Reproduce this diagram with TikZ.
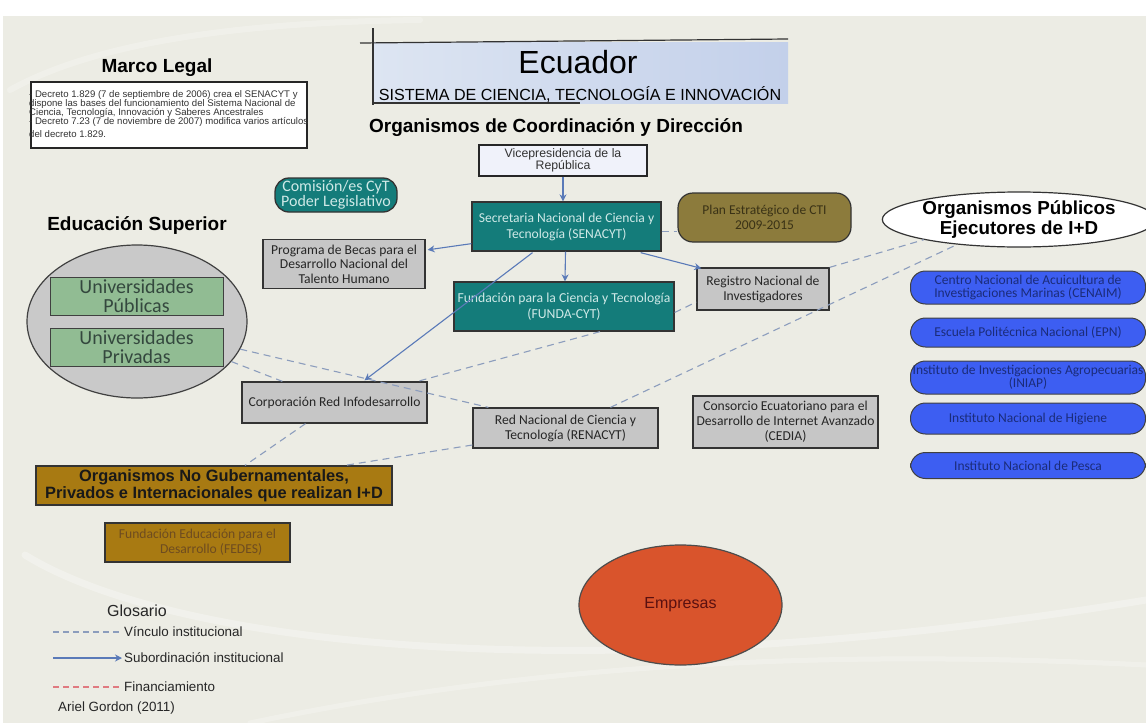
\documentclass[tikz,border=0pt]{standalone}
\usepackage{fontspec}
\setmainfont{Liberation Sans}
\newfontfamily\carl{Carlito}
\usetikzlibrary{arrows.meta,shapes.geometric,calc}
\definecolor{bgcol}{HTML}{ECECE4}
\definecolor{titleL}{HTML}{DDE5F2}
\definecolor{titleR}{HTML}{C3D0EA}
\definecolor{boxgray}{HTML}{C6C6C6}
\definecolor{tealfill}{HTML}{147C7A}
\definecolor{tealtext}{HTML}{CFE9E7}
\definecolor{olivefill}{HTML}{8C7B3C}
\definecolor{olivetext}{HTML}{3A3216}
\definecolor{greenfill}{HTML}{91BC93}
\definecolor{greentext}{HTML}{34483E}
\definecolor{ellgray}{HTML}{C9C9C9}
\definecolor{bluefill}{HTML}{3D5EF2}
\definecolor{bluetext}{HTML}{1B2C7A}
\definecolor{brownfill}{HTML}{A87A12}
\definecolor{fedestext}{HTML}{6E4C20}
\definecolor{empfill}{HTML}{D9542C}
\definecolor{emptext}{HTML}{5A1010}
\definecolor{dashcol}{HTML}{8C9DBD}
\definecolor{arrowcol}{HTML}{5A7AB8}
\definecolor{redcol}{HTML}{E07A80}
\definecolor{vicefill}{HTML}{F0F2FA}
\begin{document}
\begin{tikzpicture}[x=1pt,y=-1pt,
  gbox/.style={draw=black!80, line width=1.3pt, fill=boxgray, align=center, inner sep=1pt,
    font=\carl\fontsize{13.6}{15}\selectfont, text=black!85},
  tbox/.style={draw=black!80, line width=1.3pt, fill=tealfill, align=center, inner sep=1pt,
    font=\carl\fontsize{13.6}{16}\selectfont, text=tealtext},
  ubox/.style={draw=black!75, line width=1pt, fill=greenfill, align=center, inner sep=1pt,
    font=\carl\fontsize{20}{19}\selectfont, text=greentext, minimum width=173, minimum height=38},
  bluebox/.style={draw=black!75, line width=1pt, fill=bluefill, rounded corners=15pt, align=center,
    inner sep=0pt, font=\carl\fontsize{13.5}{13}\selectfont, text=bluetext, minimum width=235},
  vinc/.style={draw=dashcol, line width=1.1pt, dash pattern=on 7pt off 5pt},
  sub/.style={draw=arrowcol, line width=1.1pt, -{Stealth[length=7pt,width=7pt]}},
  lbl/.style={inner sep=0, anchor=base},
  swoosh/.style={draw=white, line cap=round}
]
\useasboundingbox (0,0) rectangle (1146,723);
\fill[white] (0,0) rectangle (1146,723);
\fill[bgcol] (3,16) rectangle (1146,723);
% faint background swooshes
\draw[swoosh, opacity=0.3, line width=7pt] (25,555) .. controls (180,650) and (600,690) .. (1146,600);
\draw[swoosh, opacity=0.25, line width=5pt] (250,723) .. controls (550,660) and (850,650) .. (1146,665);
\draw[swoosh, opacity=0.25, line width=6pt] (10,90) .. controls (100,40) and (250,22) .. (420,20);

% title
\shade[left color=titleL, right color=titleR] (373,42) rectangle (788,103);
\draw[line width=1.2pt, black!80] (360,43) -- (788,39);
\draw[line width=1.2pt, black!80] (373,28) -- (373,105);
\draw[line width=1.2pt, black!80] (373,103) -- (580,103);
\node[lbl, font=\fontsize{32}{32}\selectfont] (ecuador) at (578,73) {Ecuador};
\node[lbl, font=\fontsize{16.1}{17}\selectfont] (sistema) at (580,100) {SISTEMA DE CIENCIA, TECNOLOGÍA E INNOVACIÓN};
\node[lbl, font=\bfseries\fontsize{19}{20}\selectfont] (coord) at (556,132) {Organismos de Coordinación y Dirección};

% marco legal
\node[lbl, font=\bfseries\fontsize{19}{20}\selectfont] (marcoh) at (157,72) {Marco Legal};
\draw[line width=1.2pt, black!85, fill=white] (31,82) rectangle (307,148);
\node[anchor=north west, inner sep=0, align=left, font=\fontsize{9.6}{9.2}\selectfont, text=black!80] (marcot) at (29,90)
 {- Decreto 1.829 (7 de septiembre de 2006) crea el SENACYT y\\
 dispone las bases del funcionamiento del Sistema Nacional de\\
 Ciencia, Tecnología, Innovación y Saberes Ancestrales\\
 - Decreto 7.23 (7 de noviembre de 2007) modifica varios artículos\\[3.5pt]
 del decreto 1.829.};

% coordination nodes
\node[draw=black!85, line width=1.3pt, fill=vicefill, align=center, minimum width=168, minimum height=31, inner sep=0pt,
  font=\fontsize{12.3}{12.5}\selectfont, text=black!80] (vice) at (563,160.5) {Vicepresidencia de la\\República};
\node[tbox, minimum width=189, minimum height=49] (senacyt) at (566.5,226.5) {Secretaria Nacional de Ciencia y\\Tecnología (SENACYT)};
\node[tbox, minimum width=220, minimum height=49, font=\carl\fontsize{13.7}{16}\selectfont] (funda) at (564,306.5) {Fundación para la Ciencia y Tecnología\\(FUNDA-CYT)};
\node[draw=black!80, line width=1.3pt, fill=tealfill, rounded corners=14pt, align=center, minimum width=122, minimum height=34,
  inner sep=0pt, font=\carl\fontsize{16}{15}\selectfont, text=tealtext] (comision) at (336,195) {Comisión/es CyT\\Poder Legislativo};
\node[draw=black!80, line width=1.2pt, fill=olivefill, rounded corners=15pt, align=center, minimum width=173, minimum height=49,
  inner sep=1pt, font=\carl\fontsize{13.5}{15}\selectfont, text=olivetext] (plan) at (764.5,217.5) {Plan Estratégico de CTI\\2009-2015};
\node[gbox, minimum width=162, minimum height=49, font=\carl\fontsize{13.6}{14.5}\selectfont] (becas) at (344,264) {Programa de Becas para el\\Desarrollo Nacional del\\Talento Humano};
\node[gbox, minimum width=132, minimum height=42] (registro) at (763,289) {Registro Nacional de\\Investigadores};
\node[gbox, minimum width=185, minimum height=41] (corp) at (334.5,402.5) {Corporación Red Infodesarrollo};
\node[gbox, minimum width=185, minimum height=40] (renacyt) at (565.5,428) {Red Nacional de Ciencia y\\Tecnología (RENACYT)};
\node[gbox, minimum width=185, minimum height=52] (cedia) at (785.5,422) {Consorcio Ecuatoriano para el\\Desarrollo de Internet Avanzado\\(CEDIA)};

% educacion superior
\node[lbl, font=\bfseries\fontsize{19}{20}\selectfont] (eduh) at (137,230) {Educación Superior};
\node[ellipse, draw=black!75, line width=1.2pt, fill=ellgray, minimum width=220, minimum height=153, inner sep=0] (edu) at (137,321.5) {};
\node[ubox] (upub) at (136.5,296) {Universidades\\Públicas};
\node[ubox] (upriv) at (136.5,347.5) {Universidades\\Privadas};

% organismos publicos
\node[ellipse, draw=black!80, line width=1.2pt, fill=white, minimum width=234, minimum height=55, inner sep=0, align=center,
  font=\bfseries\fontsize{18.8}{20}\selectfont] (opub) at (1019,219.5) {Organismos Públicos\\Ejecutores de I+D};
\node[bluebox, minimum height=33] (cenaim) at (1028,287.5) {Centro Nacional de Acuicultura de\\Investigaciones Marinas (CENAIM)};
\node[bluebox, minimum height=29] (epn) at (1028,332.5) {Escuela Politécnica Nacional (EPN)};
\node[bluebox, minimum height=33] (iniap) at (1028,377.5) {Instituto de Investigaciones Agropecuarias\\(INIAP)};
\node[bluebox, minimum height=31] (higiene) at (1028,418.5) {Instituto Nacional de Higiene};
\node[bluebox, minimum height=26] (pesca) at (1028,465.5) {Instituto Nacional de Pesca};

% ONG
\node[draw=black!80, line width=1.2pt, fill=brownfill, minimum width=356, minimum height=39, inner sep=0pt, align=center,
  font=\bfseries\fontsize{16.4}{17}\selectfont, text=black!90] (ong) at (214,485.5) {Organismos No Gubernamentales,\\Privados e Internacionales que realizan I+D};
\node[draw=black!80, line width=1.2pt, fill=brownfill, minimum width=185, minimum height=39, inner sep=1pt, align=center,
  font=\carl\fontsize{13.6}{15}\selectfont, text=fedestext] (fedes) at (197.5,542.5) {Fundación Educación para el\\\hspace*{2em}Desarrollo (FEDES)};

% empresas
\node[ellipse, draw=black!70, line width=1.2pt, fill=empfill, minimum width=203, minimum height=120, inner sep=0,
  font=\fontsize{16}{16}\selectfont, text=emptext] (emp) at (680.5,605) {Empresas};

% subordination arrows
\draw[sub] (vice.south) -- (vice.south |- senacyt.north);
\draw[sub] ($(senacyt.south west)+(0,-8)$) -- ($(becas.north east)+(2,11)$);
\draw[sub] ($(senacyt.south)+(-1,0)$) -- ($(funda.north)+(1,0)$);
\draw[sub] ($(senacyt.south east)+(-21,1)$) -- ($(registro.north west)+(5,1)$);
\draw[sub] ($(senacyt.south)+(-34,1)$) -- ($(corp.north)+(30,-1)$);

% institutional links
\draw[vinc] ($(senacyt.east)+(0,5)$) -- ($(plan.west)+(0,14)$);
\draw[vinc] (registro.north east) -- (opub.192);
\draw[vinc] ($(renacyt.north)+(45,0)$) -- (opub.202);
\draw[vinc] ($(funda.east)+(0,6)$) -- ($(registro.west)+(0,13)$);
\draw[vinc] ($(funda.south)+(36,0)$) -- ($(corp.north east)+(-10,0)$);
\draw[vinc] (edu.345) -- ($(renacyt.north west)+(16,0)$);
\draw[vinc] (edu.337) -- ($(corp.north west)+(41,0)$);
\draw[vinc] ($(corp.south)+(-29,0)$) -- ($(ong.north)+(31,0)$);
\draw[vinc] ($(renacyt.west)+(0,17)$) -- ($(ong.north)+(131,0)$);

% glossary
\node[anchor=west, inner sep=0, font=\fontsize{16}{16}\selectfont, text=black!85] (glos) at (107,611) {Glosario};
\coordinate (l1a) at (53,632); \coordinate (l1b) at (122,632);
\coordinate (l2a) at (53,658); \coordinate (l2b) at (122,658);
\coordinate (l3a) at (53,687); \coordinate (l3b) at (122,687);
\draw[vinc, dash pattern=on 6pt off 4pt] (l1a) -- (l1b);
\draw[sub] (l2a) -- (l2b);
\draw[draw=redcol, line width=1.1pt, dash pattern=on 6pt off 4pt] (l3a) -- (l3b);
\node[anchor=west, inner sep=0, font=\fontsize{13.4}{14}\selectfont, text=black!85] (t1) at (124,632) {Vínculo institucional};
\node[anchor=west, inner sep=0, font=\fontsize{13.4}{14}\selectfont, text=black!85] (t2) at (124,658) {Subordinación institucional};
\node[anchor=west, inner sep=0, font=\fontsize{13.4}{14}\selectfont, text=black!85] (t3) at (124,687) {Financiamiento};
\node[anchor=west, inner sep=0, font=\fontsize{13.4}{14}\selectfont, text=black!85] (autor) at (58,708) {Ariel Gordon (2011)};
\end{tikzpicture}
\end{document}
